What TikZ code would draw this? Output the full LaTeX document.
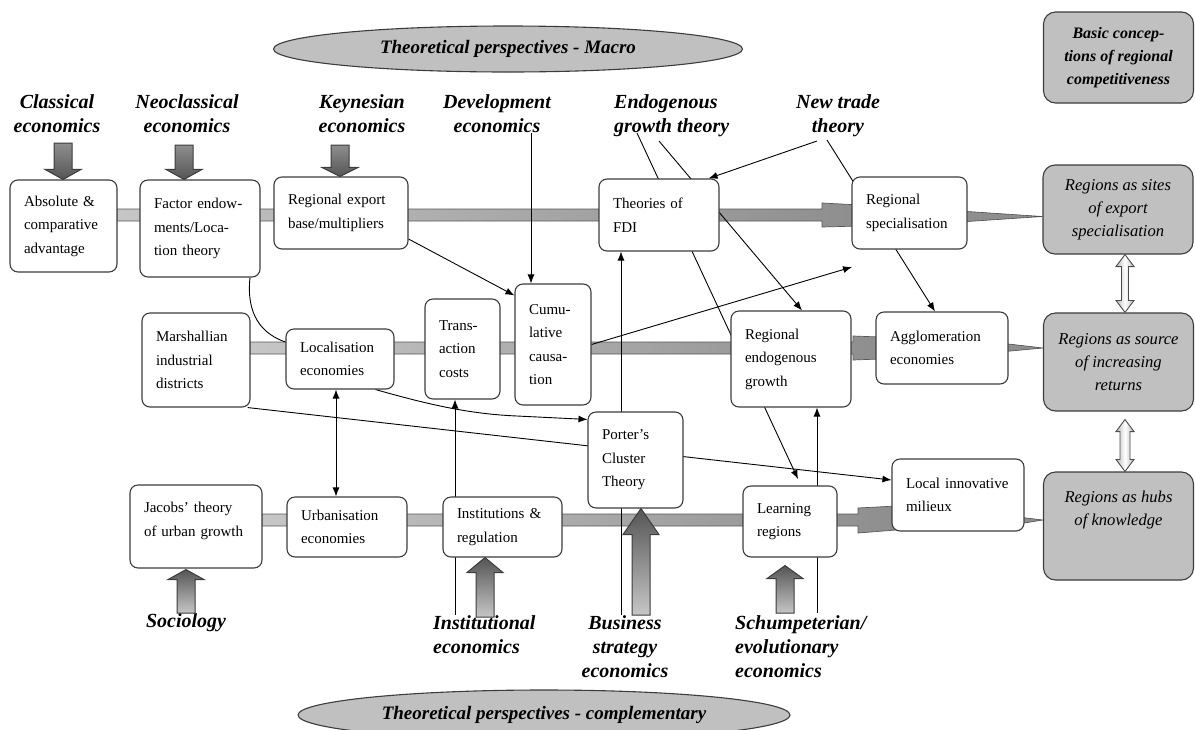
\documentclass[tikz,border=0pt]{standalone}
\usepackage{fontspec}
\setmainfont{Liberation Serif}
\usetikzlibrary{arrows.meta,shapes.geometric,calc}

\definecolor{boxline}{HTML}{3C3C3C}
\definecolor{pale}{HTML}{C6C6C6}
\definecolor{midgray}{HTML}{8E8E8E}
\definecolor{darkhead}{HTML}{555555}
\definecolor{ovalfill}{HTML}{C0C0C0}

\pgfdeclarelayer{bars}
\pgfdeclarelayer{links}
\pgfsetlayers{bars,links,main}

\tikzset{
  concept/.style={draw=boxline, line width=1.1pt, rounded corners=8pt, fill=white,
    align=left, inner xsep=14pt, inner ysep=0pt, font=\fontsize{15}{23.5}\selectfont},
  role/.style={draw=boxline, line width=1.1pt, rounded corners=12pt, fill=ovalfill,
    align=center, inner sep=0pt, minimum width=150pt, font=\fontsize{16.6}{23}\selectfont\itshape},
  school/.style={align=center, inner sep=0pt, font=\fontsize{20}{24}\selectfont\bfseries\itshape},
  oval/.style={ellipse, draw=boxline, line width=1.1pt, fill=ovalfill, inner sep=0pt,
    font=\fontsize{19}{23}\selectfont\bfseries\itshape},
  link/.style={draw=black, line width=0.9pt},
  bar/.style={draw=gray!70!black, line width=0.7pt},
  wedge/.style={fill=midgray, draw=gray!60!black, line width=0.6pt},
  fatarrow/.style={draw=boxline, line width=1pt},
  twin/.style={draw=gray!60!black, line width=0.9pt, left color=gray!55, right color=gray!55, middle color=white},
}

% x, tail y, target node, head length
\newcommand{\fatdown}[4]{%
  \shade[fatarrow, top color=midgray, bottom color=darkhead] let \p1=(#3.north) in
    ({#1pt-9pt},{-#2pt}) -- ({#1pt-9pt},{\y1+#4pt}) -- ({#1pt-18pt},{\y1+#4pt}) -- ({#1pt},{\y1})
    -- ({#1pt+18pt},{\y1+#4pt}) -- ({#1pt+9pt},{\y1+#4pt}) -- ({#1pt+9pt},{-#2pt}) -- cycle;}
% x, tail y, target node, head length, gap
\newcommand{\fatup}[5]{%
  \shade[fatarrow, top color=darkhead, bottom color=pale] let \p1=(#3.south) in
    ({#1pt-9pt},{-#2pt}) -- ({#1pt-9pt},{\y1-#5pt-#4pt}) -- ({#1pt-18pt},{\y1-#5pt-#4pt}) -- ({#1pt},{\y1-#5pt})
    -- ({#1pt+18pt},{\y1-#5pt-#4pt}) -- ({#1pt+9pt},{\y1-#5pt-#4pt}) -- ({#1pt+9pt},{-#2pt}) -- cycle;}
% x, upper node, lower node, shaft half, head half, gap
\newcommand{\twinarrow}[6]{%
  \shade[twin] let \p1=(#2.south), \p2=(#3.north) in
    ({#1pt-#4pt},{\y1-#6pt-12pt}) -- ({#1pt-#5pt},{\y1-#6pt-12pt}) -- ({#1pt},{\y1-#6pt})
    -- ({#1pt+#5pt},{\y1-#6pt-12pt}) -- ({#1pt+#4pt},{\y1-#6pt-12pt}) -- ({#1pt+#4pt},{\y2+12pt})
    -- ({#1pt+#5pt},{\y2+12pt}) -- ({#1pt},{\y2}) -- ({#1pt-#5pt},{\y2+12pt}) -- ({#1pt-#4pt},{\y2+12pt}) -- cycle;}

\begin{document}
\begin{tikzpicture}[x=1pt, y=-1pt, >={Latex[length=9pt,width=7pt]}]
  \useasboundingbox (0,0) rectangle (1195,729);

  % perspectives
  \node[oval, minimum width=469pt, minimum height=46pt] (macro) at (508,49) {Theoretical perspectives - Macro};
  \node[oval, minimum width=492pt, minimum height=50pt] (compl) at (544,715) {Theoretical perspectives - complementary};

  % schools of thought
  \node[school] (cla) at (57,114) {Classical\\economics};
  \node[school] (neo) at (187,114) {Neoclassical\\economics};
  \node[school] (key) at (362,114) {Keynesian\\economics};
  \node[school] (dev) at (497,114) {Development\\economics};
  \node[school, anchor=west, align=left] (egt) at (614,116) {Endogenous\\growth theory};
  \node[school] (ntt) at (838,116) {New trade\\theory};
  \node[school] (soc) at (186,623) {Sociology};
  \node[school, anchor=west, align=left] (ine) at (433,635) {Institutional\\economics};
  \node[school] (bse) at (625,647) {Business\\strategy\\economics};
  \node[school, anchor=west, align=left] (sch) at (735,647) {Schumpeterian/\\evolutionary\\economics};

  % concepts
  \node[concept, text width=79pt, minimum height=92pt] (abs) at (63.5,226) {Absolute \&\\comparative\\advantage};
  \node[concept, text width=92pt, minimum height=97pt] (fac) at (200,228.5) {Factor endow-\\ments/Loca-\\tion theory};
  \node[concept, text width=106pt, minimum height=72pt] (exp) at (341,213) {Regional export\\base/multipliers};
  \node[concept, text width=92pt, minimum height=72pt] (fdi) at (659,215) {Theories of\\FDI};
  \node[concept, text width=87pt, minimum height=72pt] (spec) at (909.5,213) {Regional\\specialisation};
  \node[concept, text width=80pt, minimum height=94pt] (mar) at (196,360) {Marshallian\\industrial\\districts};
  \node[concept, text width=80pt, minimum height=60pt] (loc) at (340,359) {Localisation\\economies};
  \node[concept, text width=47pt, minimum height=100pt] (tra) at (462.5,349) {Trans-\\action\\costs};
  \node[concept, text width=48pt, minimum height=121pt] (cum) at (553,344.5) {Cumu-\\lative\\causa-\\tion};
  \node[concept, text width=92pt, minimum height=96pt] (reg) at (791,359) {Regional\\endogenous\\growth};
  \node[concept, text width=104pt, minimum height=72pt] (agg) at (942,348) {Agglomeration\\economies};
  \node[concept, text width=104pt, minimum height=83pt] (jac) at (196,526.5) {Jacobs’ theory\\of urban growth\\[-9pt]\mbox{}};
  \node[concept, text width=92pt, minimum height=60pt] (urb) at (347,527) {Urbanisation\\economies};
  \node[concept, text width=91pt, minimum height=60pt] (ins) at (502.5,527) {Institutions \&\\regulation};
  \node[concept, text width=67pt, minimum height=96pt] (por) at (635.5,460) {Porter’s\\Cluster\\Theory};
  \node[concept, text width=66pt, minimum height=71pt] (lea) at (790,521.5) {Learning\\regions};
  \node[concept, text width=104pt, minimum height=72pt] (mil) at (958,495) {Local innovative\\milieux};

  % conceptions of regional competitiveness
  \node[role, minimum height=91pt, font=\fontsize{16}{23}\selectfont\bfseries\itshape] (basic) at (1118.5,57.5) {Basic concep-\\tions of regional\\competitiveness};
  \node[role, minimum height=89pt] (sites) at (1118,209.5) {Regions as sites\\of export\\specialisation};
  \node[role, minimum height=98pt] (source) at (1118.5,362) {Regions as source\\of increasing\\returns};
  \node[role, minimum height=108pt] (hubs) at (1118.5,526) {Regions as hubs\\of knowledge\\[13pt]\mbox{}};

  % main bars
  \begin{pgfonlayer}{bars}
    \shade[bar, left color=pale, right color=midgray] (117,209) -- (822,209) -- (822,203) -- (860,205)
      -- (860,226) -- (822,227) -- (822,221) -- (117,221) -- cycle;
    \shade[bar, left color=pale, right color=midgray] (250,342) -- (853,342) -- (853,336) -- (880,337)
      -- (880,359) -- (853,360) -- (853,354) -- (250,354) -- cycle;
    \shade[bar, left color=pale, right color=midgray] (262,514) -- (858,514) -- (858,508) -- (896,506)
      -- (896,530) -- (858,533) -- (858,526) -- (262,526) -- cycle;
    \filldraw[wedge] (960,211) -- ([yshift=-7pt]sites.west) -- (960,222) -- cycle;
    \filldraw[wedge] (1000,343) -- ([yshift=14pt]source.west) -- (1000,352) -- cycle;
    \filldraw[wedge] (1018,517) -- ([yshift=6pt]hubs.west) -- (1018,524) -- cycle;
  \end{pgfonlayer}

  % free ends
  \coordinate (devfoot) at (531,133);
  \coordinate (egt1) at (637,133);
  \coordinate (egt2) at (659,141);
  \coordinate (ntt1) at (817,141);
  \coordinate (ntt2) at (827,140);
  \coordinate (cumend) at (852,267);
  \coordinate (instail) at (455,615);
  \coordinate (bustail) at (621,615);
  \coordinate (schtail) at (817,613);
  \coordinate (locfoot) at ([xshift=-4pt]loc.south);

  % links
  \begin{pgfonlayer}{links}
    \draw[link,->] (devfoot) -- (devfoot |- cum.north);
    \draw[link,->] ([yshift=-26pt]exp.east) -- ([yshift=-12pt]cum.north west);
    \draw[link,->,shorten >=7pt] (egt1) -- ([xshift=11pt]lea.north);
    \draw[link,->] (egt2) -- ([xshift=11pt]reg.north);
    \draw[link,->] (ntt1) -- ([xshift=-11pt]fdi.north east);
    \draw[link,->] (ntt2) -- ([xshift=-7pt]agg.north);
    \draw[link,->] (cum.east) -- (cumend);
    \draw[link,->] ([xshift=-19pt]loc.south east) .. controls (430,405) and (470,414) .. (517,416)
      -- ([yshift=-8pt]por.north west);
    \draw[link,->] ([xshift=-3pt]mar.south east) -- ([yshift=15pt]mil.west);
    \draw[link,<->] (locfoot) -- (locfoot |- urb.north);
    \draw[link,->] (instail) -- (instail |- tra.south);
    \draw[link,->] (bustail) -- (bustail |- fdi.south);
    \draw[link,->] (schtail) -- (schtail |- reg.south);
    \draw[link] ([xshift=50pt]fac.south) .. controls (246,315) and (262,334) .. ([yshift=17pt]loc.west);
  \end{pgfonlayer}

  % influences of the schools
  \fatdown{63}{143}{abs}{10}
  \fatdown{184}{145}{fac}{10}
  \fatdown{340}{145}{exp}{9}
  \fatup{186}{613}{jac}{10}{1}
  \fatup{485}{617}{ins}{15}{0}
  \fatup{641}{615}{por}{26}{0}
  \fatup{785}{613}{lea}{13}{8}

  % between the conceptions
  \twinarrow{1125}{sites}{source}{3.5}{9}{0}
  \twinarrow{1125}{source}{hubs}{5}{9}{8}
\end{tikzpicture}
\end{document}
